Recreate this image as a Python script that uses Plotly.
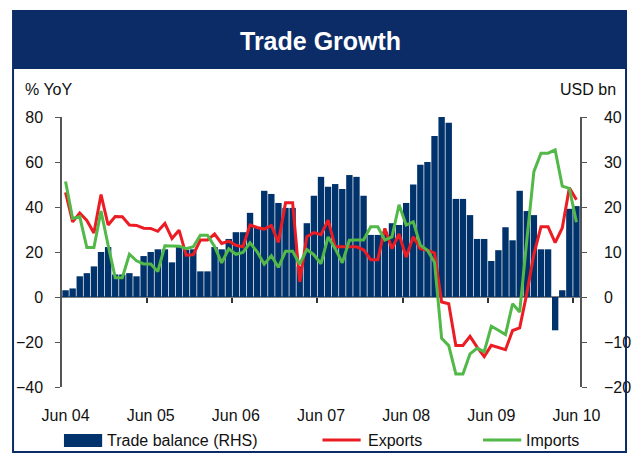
import plotly.graph_objects as go

# ---- data (Jun 04 .. Jun 10, monthly) ----
trade_balance = [1.5, 1.9, 4.6, 5.3, 6.8, 10.0, 11.1, 5.0, 5.0, 5.3, 4.6, 9.1,
                 10.0, 10.6, 10.6, 7.7, 11.1, 10.5, 10.6, 5.7, 5.7, 11.1, 10.6, 12.9,
                 14.4, 14.4, 18.7, 15.5, 23.6, 22.9, 20.9, 19.8, 19.8, 6.8, 16.4, 22.5,
                 26.7, 24.5, 25.1, 24.0, 27.1, 26.7, 22.5, 13.8, 13.8, 14.5, 16.4, 16.0,
                 20.9, 25.0, 29.4, 30.0, 35.8, 40.3, 38.7, 21.8, 21.8, 18.2, 12.9, 12.9,
                 8.0, 10.4, 15.5, 12.6, 23.6, 19.1, 18.2, 10.6, 10.6, -7.4, 1.5, 19.6,
                 20.2]
exports = [46.5, 33.4, 37.3, 34.0, 28.5, 45.5, 32.0, 35.8, 35.7, 32.0, 31.8, 30.6,
           30.5, 29.2, 32.7, 26.0, 29.7, 18.6, 18.8, 25.3, 25.3, 28.0, 23.8, 24.8,
           23.0, 22.3, 32.0, 30.9, 30.2, 31.8, 24.3, 41.9, 41.9, 6.7, 26.8, 28.6,
           27.7, 34.2, 22.3, 22.3, 22.3, 22.3, 21.0, 16.6, 16.6, 30.5, 21.5, 28.0,
           17.7, 26.8, 21.5, 20.8, 19.5, -2.2, -3.0, -21.5, -21.5, -17.5, -22.3, -26.5,
           -21.5, -22.3, -23.4, -14.9, -13.7, 1.5, 19.0, 31.2, 31.2, 24.2, 30.7, 48.5,
           43.2]
imports = [51.3, 34.9, 35.7, 22.0, 22.0, 38.2, 23.0, 8.6, 8.6, 19.0, 16.1, 14.7,
           14.7, 11.3, 22.8, 22.6, 22.6, 21.5, 22.3, 27.5, 27.5, 22.5, 15.2, 21.4,
           19.0, 19.8, 24.1, 20.1, 14.6, 18.3, 13.2, 20.3, 20.3, 14.6, 21.1, 18.8,
           14.8, 26.7, 21.5, 15.2, 25.2, 25.3, 25.3, 31.2, 31.2, 25.3, 26.7, 41.0,
           32.0, 33.4, 23.0, 20.8, 15.4, -18.4, -21.6, -34.2, -34.2, -25.3, -22.8, -24.3,
           -13.0, -14.8, -16.7, -3.0, -6.7, 25.0, 55.7, 63.9, 63.9, 65.4, 49.3, 48.3,
           33.2]
tick_labels = ["Jun 04", "Jun 05", "Jun 06", "Jun 07", "Jun 08", "Jun 09", "Jun 10"]

n = len(exports)
idx = list(range(n))

NAVY = "#0c2c68"
BAR = "#00336b"
RED = "#ec1c24"
GREEN = "#52b848"
AXIS = "#555555"
FONT = "Liberation Sans Narrow, Arial Narrow, Liberation Sans, Arial, sans-serif"

W, H = 643, 456
L, R, T, B = 62, 591, 117, 387


def px(x):
    return (x - L) / (R - L)


def py(y):
    return (B - y) / (B - T)


fig = go.Figure()
fig.add_trace(go.Bar(x=idx, y=trade_balance, marker_color=BAR, marker_line_width=0,
                     name="Trade balance (RHS)", xaxis="x", yaxis="y", showlegend=False))
fig.add_trace(go.Scatter(x=idx, y=exports, mode="lines", line=dict(color=RED, width=3),
                         name="Exports", xaxis="x", yaxis="y2", showlegend=False))
fig.add_trace(go.Scatter(x=idx, y=imports, mode="lines", line=dict(color=GREEN, width=3),
                         name="Imports", xaxis="x", yaxis="y2", showlegend=False))
# invisible trace to host the zero-line category axis
fig.add_trace(go.Scatter(x=[], y=[], xaxis="x2", yaxis="y", showlegend=False,
                         hoverinfo="skip"))

xr = [-0.5, n - 0.5]
fig.update_layout(
    width=W, height=H,
    margin=dict(l=L, r=W - R, t=T, b=H - B),
    paper_bgcolor="white", plot_bgcolor="white",
    font=dict(family=FONT, size=16, color="#111111"),
    bargap=0.1,
    xaxis=dict(range=xr, tickvals=[12 * k for k in range(len(tick_labels))],
               ticktext=tick_labels, ticks="outside", ticklen=14,
               tickcolor="rgba(0,0,0,0)", showline=False, showgrid=False,
               zeroline=False, tickfont=dict(size=16)),
    xaxis2=dict(range=xr, overlaying="x", anchor="free", position=1 / 3,
                tickvals=[12 * k - 0.5 for k in range(1, len(tick_labels))],
                ticks="outside", ticklen=5, tickcolor="#333333", tickwidth=1.5,
                showticklabels=False, showline=True, linecolor="#7f7f7f",
                linewidth=1.5, showgrid=False, zeroline=False, layer="below traces"),
    yaxis=dict(range=[-20, 40], dtick=10, side="right", ticks="outside", ticklen=5,
               tickcolor=AXIS, showline=True, linecolor=AXIS, linewidth=1.5,
               showgrid=False, zeroline=False, ticklabelstandoff=14,
               tickfont=dict(size=16)),
    yaxis2=dict(range=[-40, 80], dtick=20, side="left", overlaying="y", ticks="outside",
                ticklen=5, tickcolor=AXIS, showline=True, linecolor=AXIS, linewidth=1.5,
                showgrid=False, zeroline=False, ticklabelstandoff=9,
                tickfont=dict(size=16)),
)

shapes = []
# title band and outer frame
shapes.append(dict(type="rect", xref="paper", yref="paper", x0=px(12), x1=px(638),
                   y0=py(69), y1=py(11), fillcolor=NAVY, line=dict(width=0), layer="below"))
shapes.append(dict(type="rect", xref="paper", yref="paper", x0=px(12), x1=px(638),
                   y0=py(452), y1=py(11), line=dict(color=NAVY, width=2)))
# legend symbols
shapes.append(dict(type="rect", xref="paper", yref="paper", x0=px(64), x1=px(103),
                   y0=py(447), y1=py(434), fillcolor=BAR, line=dict(width=0)))
shapes.append(dict(type="line", xref="paper", yref="paper", x0=px(328), x1=px(367),
                   y0=py(440), y1=py(440), line=dict(color=RED, width=3)))
shapes.append(dict(type="line", xref="paper", yref="paper", x0=px(492), x1=px(531),
                   y0=py(440), y1=py(440), line=dict(color=GREEN, width=3)))
fig.update_layout(shapes=shapes)

ann = []
ann.append(dict(text="<b>Trade Growth</b>", x=px(326), y=py(41), xref="paper", yref="paper",
                showarrow=False, xanchor="center", yanchor="middle",
                font=dict(size=25, color="white", family=FONT)))
ann.append(dict(text="% YoY", x=px(22), y=py(89), xref="paper", yref="paper",
                showarrow=False, xanchor="left", yanchor="middle", font=dict(size=16)))
ann.append(dict(text="USD bn", x=px(630), y=py(89), xref="paper", yref="paper",
                showarrow=False, xanchor="right", yanchor="middle", font=dict(size=16)))
for xx, txt in [(106, "Trade balance (RHS)"), (372, "Exports"), (534, "Imports")]:
    ann.append(dict(text=txt, x=px(xx), y=py(440), xref="paper", yref="paper",
                    showarrow=False, xanchor="left", yanchor="middle", font=dict(size=16)))
fig.update_layout(annotations=ann)

fig.write_html("out.html", config={"displayModeBar": False},
               post_script="document.body.style.margin='0';document.body.style.padding='0';")
